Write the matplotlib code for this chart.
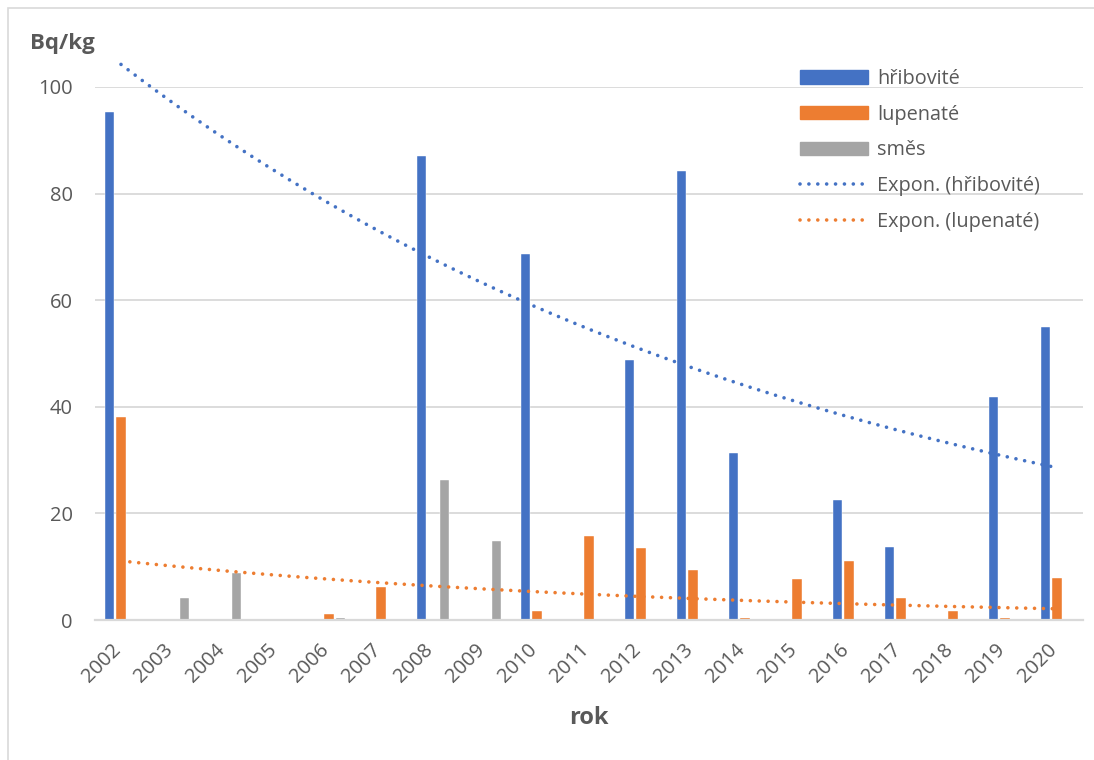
import matplotlib.pyplot as plt
import matplotlib.patches as mpatches
import matplotlib.transforms as mtransforms
from matplotlib.lines import Line2D
import numpy as np

plt.rcParams['font.family'] = ['Open Sans', 'DejaVu Sans']

# roky a naměřené hodnoty (Bq/kg), NaN = bez vzorku
roky = ['2002', '2003', '2004', '2005', '2006', '2007', '2008', '2009', '2010', '2011',
        '2012', '2013', '2014', '2015', '2016', '2017', '2018', '2019', '2020']
hribovite = [95.3, np.nan, np.nan, np.nan, np.nan, np.nan, 87.0, np.nan, 68.7, np.nan,
             48.7, 84.3, 31.3, np.nan, 22.5, 13.7, np.nan, 41.8, 54.9]
lupenate = [38.0, np.nan, np.nan, np.nan, 1.1, 6.15, np.nan, np.nan, 1.7, 15.8,
            13.5, 9.35, 0.3, 7.6, 11.0, 4.1, 1.6, 0.3, 7.9]
smes = [np.nan, 4.1, 8.9, 0.25, 0.4, np.nan, 26.2, 14.9, np.nan, np.nan,
        np.nan, np.nan, np.nan, np.nan, np.nan, np.nan, np.nan, np.nan, np.nan]

modra = '#4472C4'
oranzova = '#ED7D31'
seda = '#A5A5A5'
text_barva = '#595959'
mrizka = '#D9D9D9'


def expon_trend(hodnoty):
    # exponenciální trend jako v Excelu: fit ln(y) ~ x přes vyplněné hodnoty
    y = np.array(hodnoty, dtype=float)
    x = np.arange(1, len(y) + 1)
    ok = ~np.isnan(y) & (y > 0)
    b, a = np.polyfit(x[ok], np.log(y[ok]), 1)
    xx = np.linspace(1, len(y), 200)
    return xx - 1, np.exp(a + b * xx)


fig = plt.figure(figsize=(10.94, 7.6), dpi=100)
ax = fig.add_axes([95 / 1094, 1 - 620 / 760, (1083 - 95) / 1094, (620 - 87) / 760])

x = np.arange(len(roky))
w = 0.185
posun = 0.222
ax.bar(x - posun, hribovite, w, color=modra, edgecolor='white', linewidth=0.3, zorder=2)
ax.bar(x, lupenate, w, color=oranzova, edgecolor='white', linewidth=0.3, zorder=2)
ax.bar(x + posun, smes, w, color=seda, edgecolor='white', linewidth=0.3, zorder=2)

tecky = (0, (0.01, 2.45))
tx, ty = expon_trend(hribovite)
ax.plot(tx, ty, color=modra, lw=2.6, linestyle=tecky, dash_capstyle='round', clip_on=False, zorder=3)
tx, ty = expon_trend(lupenate)
ax.plot(tx, ty, color=oranzova, lw=2.6, linestyle=tecky, dash_capstyle='round', clip_on=False, zorder=3)

ax.set_xlim(-0.5, len(roky) - 0.5)
ax.set_ylim(0, 100)
ax.set_yticks(np.arange(0, 101, 20))
ax.set_xticks(x)
ax.set_xticklabels(roky, rotation=45, ha='right')
ax.tick_params(axis='both', length=0, labelsize=14.5, colors=text_barva)
ax.tick_params(axis='y', pad=16)
ax.tick_params(axis='x', pad=14)
# popisky let trochu doprava, ať končí u středu skupiny
posun_popisku = mtransforms.ScaledTranslation(4 / 100, 0, fig.dpi_scale_trans)
for lbl in ax.get_xticklabels():
    lbl.set_transform(lbl.get_transform() + posun_popisku)
ax.grid(axis='y', color=mrizka, lw=1.3, zorder=0)
ax.set_axisbelow(True)
for s in ['top', 'right', 'left']:
    ax.spines[s].set_visible(False)
ax.spines['bottom'].set_color(mrizka)
ax.spines['bottom'].set_linewidth(1.6)

fig.text(30 / 1094, 1 - 44 / 760, 'Bq/kg', fontsize=16, fontweight='bold', color=text_barva,
         ha='left', va='center')
fig.text(589 / 1094, 1 - 718 / 760, 'rok', fontsize=17, fontweight='bold', color=text_barva,
         ha='center', va='center')

handles = [
    mpatches.Patch(color=modra),
    mpatches.Patch(color=oranzova),
    mpatches.Patch(color=seda),
    Line2D([], [], color=modra, lw=2.6, linestyle=tecky, dash_capstyle='round'),
    Line2D([], [], color=oranzova, lw=2.6, linestyle=tecky, dash_capstyle='round'),
]
labels = ['hřibovité', 'lupenaté', 'směs', 'Expon. (hřibovité)', 'Expon. (lupenaté)']
leg = fig.legend(handles, labels, loc='upper left', bbox_to_anchor=(800 / 1094, 1 - 69 / 760),
                 frameon=False, fontsize=14.3, handlelength=3.4, handleheight=0.65,
                 handletextpad=0.47, labelspacing=0.79, borderpad=0, borderaxespad=0)
for t in leg.get_texts():
    t.set_color(text_barva)

# rámeček kolem grafu
fig.add_artist(mpatches.Rectangle((8 / 1094, -0.1), 1.2, 1 - 8 / 760 + 0.1, transform=fig.transFigure,
                                  fill=False, edgecolor=mrizka, lw=1.2))

fig.savefig('out.png', dpi=100)
